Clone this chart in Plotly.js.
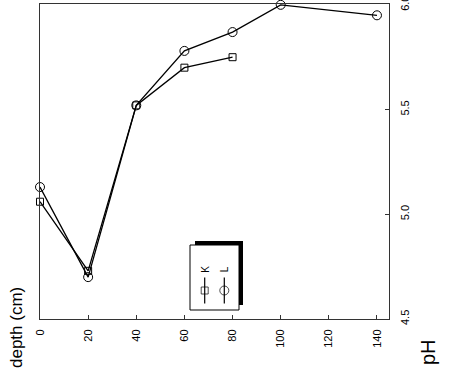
<!DOCTYPE html>
<html>
<head>
<meta charset="utf-8">
<script src="https://cdn.plot.ly/plotly-3.0.1.min.js"></script>
<style>html,body{margin:0;padding:0;background:#fff;}#chart{width:453px;height:381px;}</style>
</head>
<body>
<div id="chart"></div>
<script>
// Data
const depthK = [0, 20, 40, 60, 80];
const phK = [5.06, 4.73, 5.52, 5.70, 5.75];
const depthL = [0, 20, 40, 60, 80, 100, 140];
const phL = [5.13, 4.70, 5.52, 5.78, 5.87, 6.00, 5.95];
const depthTicks = [0, 20, 40, 60, 80, 100, 120, 140];
const phTicks = [4.5, 5.0, 5.5, 6.0];
const seriesNames = ['K', 'L'];

const lineStyle = {color: '#000', width: 1.3};
const traces = [
  {x: depthK, y: phK, mode: 'lines+markers', name: seriesNames[0], line: lineStyle,
   marker: {symbol: 'square-open', size: 7, color: '#000', line: {width: 1}}, cliponaxis: false},
  {x: depthL, y: phL, mode: 'lines+markers', name: seriesNames[1], line: lineStyle,
   marker: {symbol: 'circle-open', size: 9, color: '#000', line: {width: 1}}, cliponaxis: false},
  // legend samples (rotated legend drawn on its own small axis)
  {x: [0.3, 0.3, 0.3], y: [0.1, 0.3, 0.5], xaxis: 'x2', yaxis: 'y2', mode: 'lines+markers',
   line: {color: '#000', width: 1.2}, marker: {symbol: 'square-open', size: [0, 7, 0], color: '#000', line: {width: 1}},
   showlegend: false, hoverinfo: 'skip', cliponaxis: false},
  {x: [0.7, 0.7, 0.7], y: [0.1, 0.3, 0.5], xaxis: 'x2', yaxis: 'y2', mode: 'lines+markers',
   line: {color: '#000', width: 1.2}, marker: {symbol: 'circle-open', size: [0, 9, 0], color: '#000', line: {width: 1}},
   showlegend: false, hoverinfo: 'skip', cliponaxis: false}
];

const W = 453, H = 381;
const mL = 40, mR = 64, mT = 4, mB = 62;
const pw = W - mL - mR, ph = H - mT - mB;
// legend box in pixels
const lgX0 = 190, lgX1 = 239, lgY0 = 245, lgY1 = 310;
const px = v => (v - mL) / pw;
const py = v => 1 - (v - mT) / ph;

const font = {family: 'Liberation Sans, Arial, sans-serif', size: 11, color: '#000'};
const layout = {
  width: W, height: H,
  margin: {l: mL, r: mR, t: mT, b: mB},
  paper_bgcolor: '#fff', plot_bgcolor: 'rgba(0,0,0,0)',
  showlegend: false,
  font: font,
  xaxis: {
    range: [0, 145], tickvals: depthTicks, ticktext: depthTicks.map(String),
    tickangle: -90, ticks: 'inside', ticklen: 4, tickcolor: '#333',
    showline: true, linecolor: '#333', linewidth: 1, mirror: true,
    showgrid: false, zeroline: false, ticklabelstandoff: 5, ticklabeloverflow: 'allow',
    tickfont: font
  },
  yaxis: {
    range: [4.5, 6.004], side: 'right', tickvals: phTicks, ticktext: phTicks.map(v => v.toFixed(1)),
    tickangle: -90, ticks: 'inside', ticklen: 4, tickcolor: '#333',
    showline: true, linecolor: '#333', linewidth: 1, mirror: true,
    showgrid: false, zeroline: false, ticklabelstandoff: 6, ticklabeloverflow: 'allow',
    tickfont: font
  },
  xaxis2: {domain: [px(lgX0), px(lgX1)], range: [0, 1], visible: false, fixedrange: true, anchor: 'y2'},
  yaxis2: {domain: [py(lgY1), py(lgY0)], range: [0, 1], visible: false, fixedrange: true, anchor: 'x2'},
  shapes: [
    // shadow
    {type: 'rect', xref: 'paper', yref: 'paper', x0: px(lgX0 + 5), x1: px(lgX1 + 4), y0: py(lgY1 - 5), y1: py(lgY0 - 4),
     fillcolor: '#000', line: {width: 0}, layer: 'below'},
    // box
    {type: 'rect', xref: 'paper', yref: 'paper', x0: px(lgX0), x1: px(lgX1), y0: py(lgY1), y1: py(lgY0),
     fillcolor: '#fff', line: {color: '#000', width: 1}, layer: 'below'}
  ],
  annotations: [
    {text: seriesNames[0], xref: 'x2', yref: 'y2', x: 0.3, y: 0.63, showarrow: false, textangle: -90, font: {family: font.family, size: 10, color: '#000'}},
    {text: seriesNames[1], xref: 'x2', yref: 'y2', x: 0.7, y: 0.63, showarrow: false, textangle: -90, font: {family: font.family, size: 10, color: '#000'}},
    {text: 'depth (cm)', xref: 'paper', yref: 'paper', x: px(17), y: py(328), xanchor: 'center', yanchor: 'middle', showarrow: false, textangle: -90,
     font: {family: font.family, size: 17, color: '#000'}},
    {text: 'pH', xref: 'paper', yref: 'paper', x: px(428), y: py(352), xanchor: 'center', yanchor: 'middle', showarrow: false, textangle: -90,
     font: {family: font.family, size: 20, color: '#000'}}
  ]
};

Plotly.newPlot('chart', traces, layout, {displayModeBar: false, staticPlot: true});
</script>
</body>
</html>
